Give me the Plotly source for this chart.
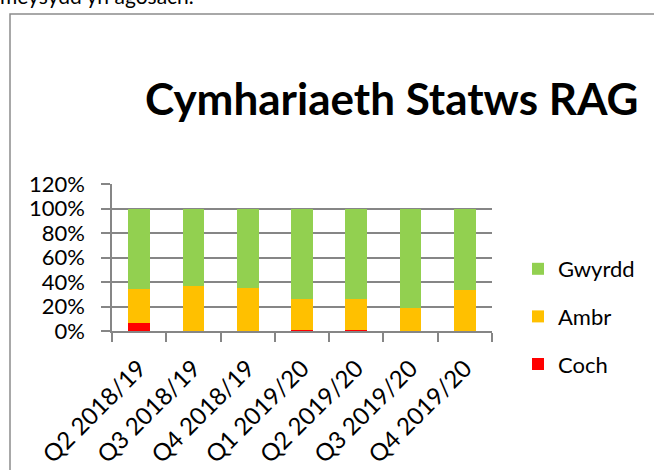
import plotly.graph_objects as go

categories = ["Q2 2018/19", "Q3 2018/19", "Q4 2018/19", "Q1 2019/20",
              "Q2 2019/20", "Q3 2019/20", "Q4 2019/20"]
coch = [0.065, 0.0, 0.0, 0.005, 0.007, 0.0, 0.0]
ambr = [0.28, 0.367, 0.348, 0.254, 0.253, 0.185, 0.337]
gwyrdd = [0.655, 0.633, 0.652, 0.741, 0.740, 0.815, 0.663]

series = [("Coch", coch, "#FF0000", 3), ("Ambr", ambr, "#FFC000", 2), ("Gwyrdd", gwyrdd, "#92D050", 1)]

FONT = "Lato"
W, H = 654, 470
L, R, T, B = 112, 162, 184, 139
PW, PH = W - L - R, H - T - B

def px(x):
    return (x - L) / PW

def py(y):
    return (H - B - y) / PH

fig = go.Figure()
for name, vals, col, rank in series:
    fig.add_trace(go.Bar(x=categories, y=vals, name=name, marker_color=col,
                         marker_line_width=0, legendgroup=name, legendrank=rank))

fig.update_layout(
    width=W, height=H, barmode="stack", bargap=0.6,
    margin=dict(l=L, r=R, t=T, b=B, autoexpand=False),
    paper_bgcolor="white", plot_bgcolor="white",
    font=dict(family=FONT, size=22, color="black"),
    showlegend=True,
    legend=dict(traceorder="grouped", tracegroupgap=16,
                x=px(518), xanchor="left", y=py(248), yanchor="top",
                font=dict(size=22), itemsizing="constant",
                bgcolor="rgba(0,0,0,0)"),
    xaxis=dict(type="category", automargin=False, showline=True, linecolor="#868686", linewidth=1.5,
               ticks="outside", tickson="boundaries", ticklen=9, tickcolor="#868686",
               tickwidth=1.5, tickangle=-45, tickfont=dict(size=24, family=FONT),
               ticklabelstandoff=12, showgrid=False),
    yaxis=dict(range=[0, 1.2], dtick=0.2, tickformat=".0%", automargin=False, showline=True,
               linecolor="#868686", linewidth=1.5, ticks="outside", ticklen=9,
               tickcolor="#868686", tickwidth=1.5, showgrid=True,
               gridcolor="#868686", gridwidth=1.5, zeroline=False,
               ticklabelstandoff=12, tickfont=dict(size=22, family=FONT)),
)

fig.add_shape(type="rect", xref="paper", yref="paper",
              x0=px(10), x1=px(700), y0=py(520), y1=py(14),
              line=dict(color="#8c8c8c", width=1.5), fillcolor="rgba(0,0,0,0)", layer="below")

fig.add_annotation(text="<b>Cymhariaeth Statws RAG</b>", xref="paper", yref="paper",
                   x=px(392), y=py(98), xanchor="center", yanchor="middle",
                   showarrow=False, font=dict(size=44, family=FONT, color="black"))

fig.add_annotation(text="meysydd yn agosach.", xref="paper", yref="paper",
                   x=px(-2), y=py(10), xanchor="left", yanchor="bottom",
                   showarrow=False, font=dict(size=21, family=FONT, color="black"))

fig.write_html("out.html", config={"displayModeBar": False},
               post_script="document.body.style.margin='0';")
